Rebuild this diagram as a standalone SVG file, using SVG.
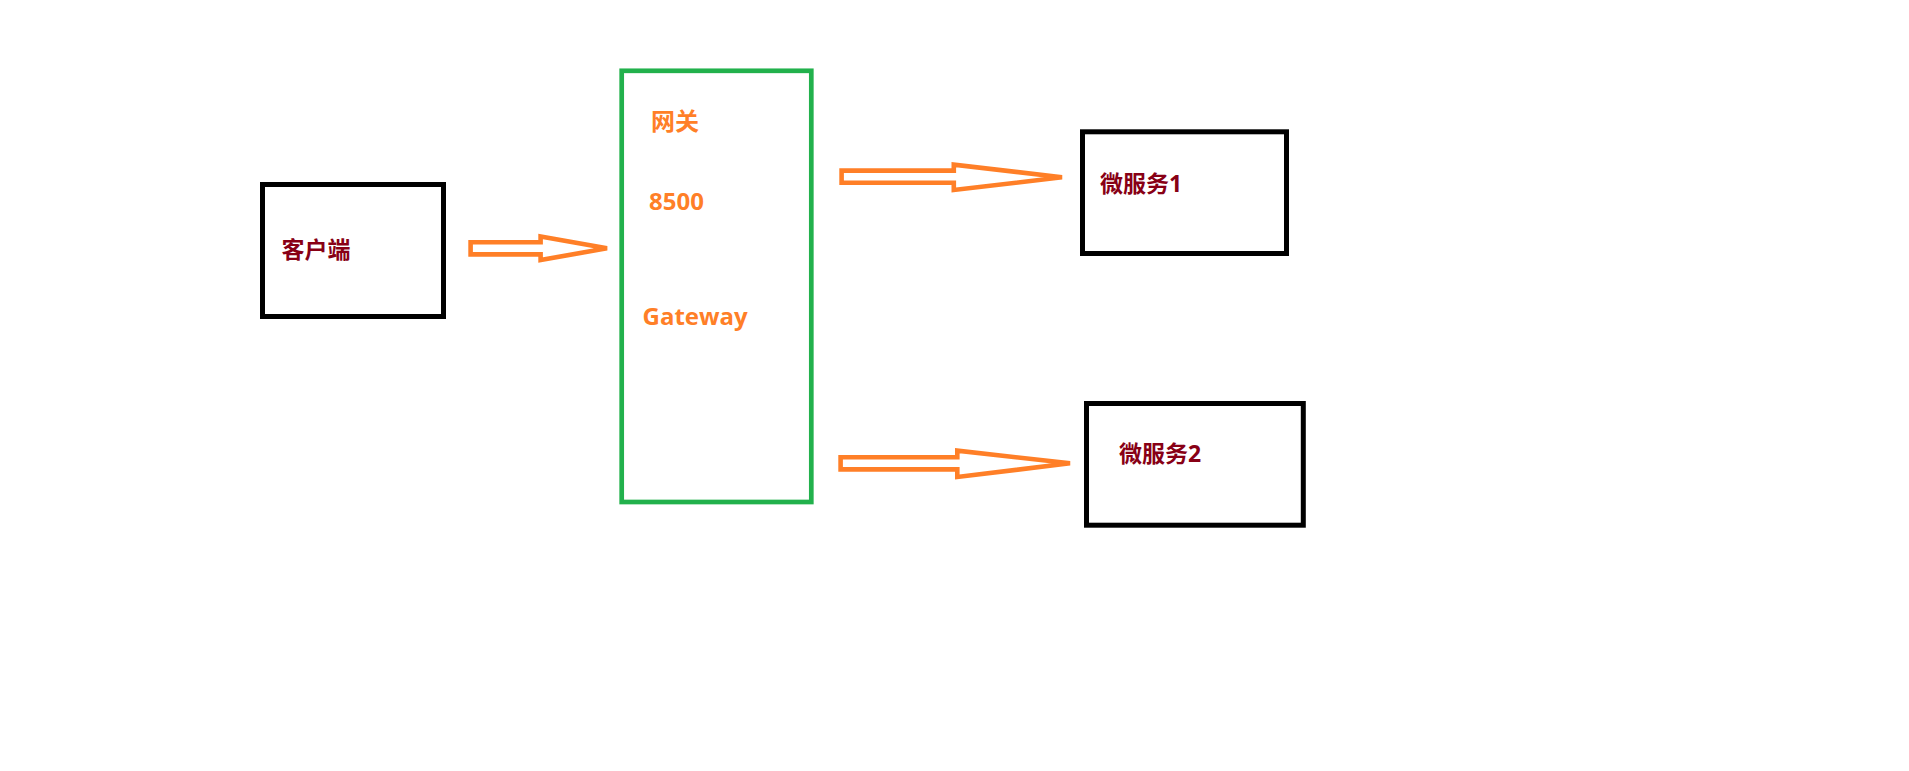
<svg xmlns="http://www.w3.org/2000/svg" width="1909" height="771" viewBox="0 0 1909 771">
<style>
.box{fill:#fff;stroke:#000;stroke-width:5}
.gw{fill:#fff;stroke:#22B14C;stroke-width:4.7}
.arrow{fill:#fff;stroke:#FF7F27;stroke-width:4.6;stroke-linejoin:miter}
.lbl{font-family:"Open Sans","Noto Sans CJK SC",sans-serif;font-weight:bold;fill:#880015;font-size:23px}
.olbl{font-family:"Open Sans","Noto Sans CJK SC",sans-serif;font-weight:bold;fill:#FF7F27;font-size:24px}
</style>
<rect width="1909" height="771" fill="#fff"/>
<g id="client">
<rect class="box" x="262.5" y="184.5" width="181" height="132"/>
<text class="lbl" x="281.5" y="257.5">客户端</text>
</g>
<g id="gateway">
<rect class="gw" x="621.7" y="70.8" width="189.6" height="431.2"/>
<text class="olbl" x="651" y="130">网关</text>
<text class="olbl" x="649" y="210" font-size="25.5">8500</text>
<text class="olbl" x="642.5" y="325">Gateway</text>
</g>
<g id="service1">
<rect class="box" x="1082.5" y="131.8" width="204" height="121.7"/>
<text class="lbl" x="1100" y="191.5">微服务1</text>
</g>
<g id="service2">
<rect class="box" x="1086.5" y="403.5" width="216.8" height="121.7"/>
<text class="lbl" x="1119" y="462">微服务2</text>
</g>
<g id="connectors">
<polygon class="arrow" points="470.6,242.3 540.6,242.3 540.6,236.6 607,248.3 540.6,260 540.6,254.4 470.6,254.4"/>
<polygon class="arrow" points="841.6,170.6 953.8,170.6 953.8,164.6 1062,177.3 953.8,190 953.8,182.7 841.6,182.7"/>
<polygon class="arrow" points="840.6,457.3 957.3,457.3 957.3,450.6 1070,463.3 957.3,477 957.3,469.4 840.6,469.4"/>
</g>
</svg>
